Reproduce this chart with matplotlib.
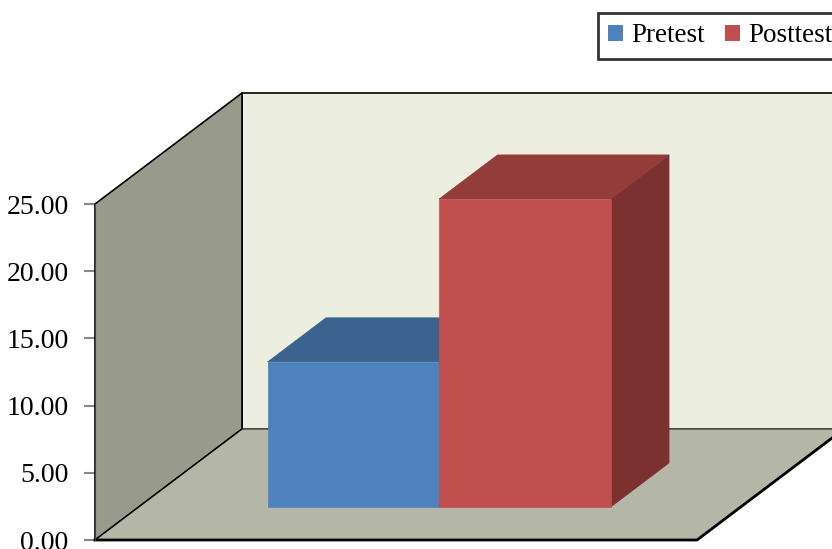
import matplotlib.pyplot as plt
from matplotlib.patches import Polygon, Patch

# Chart data
series = ["Pretest", "Posttest"]
values = [10.80, 22.92]
front_colors = ["#4F81BD", "#C0504D"]
top_colors = ["#3C6390", "#943C3A"]
side_colors = ["#385C87", "#7B3130"]
y_ticks = [0, 5, 10, 15, 20, 25]
y_labels = ["%.2f" % t for t in y_ticks]

# Layout of the fake 3D box (x in layout units, y in value units)
PX_PER_UNIT = 13.44
AXIS_X = 95
DEPTH_X = 147
DEPTH_Y = 111 / PX_PER_UNIT
FLOOR_RIGHT = 697
BAR_LEFT = 224
BAR_W = 171.5
BAR_D0, BAR_D1 = 0.297, 0.694

plt.rcParams['font.family'] = ['Liberation Serif', 'DejaVu Serif']

fig = plt.figure(figsize=(8.32, 5.49), dpi=100)
ax = fig.add_axes([0, 0, 1, 1])
ax.set_xlim(0, 832)
ax.set_ylim(-9 / PX_PER_UNIT, 540 / PX_PER_UNIT)

ymax = y_ticks[-1]
# back wall
ax.add_patch(Polygon([(AXIS_X + DEPTH_X, DEPTH_Y), (AXIS_X + DEPTH_X, ymax + DEPTH_Y),
                      (1000, ymax + DEPTH_Y), (1000, DEPTH_Y)],
                     closed=True, fc="#ECEFE0", ec="black", lw=1.2, zorder=1))
# left wall
ax.add_patch(Polygon([(AXIS_X, 0), (AXIS_X, ymax), (AXIS_X + DEPTH_X, ymax + DEPTH_Y),
                      (AXIS_X + DEPTH_X, DEPTH_Y)],
                     closed=True, fc="#989A8B", ec="black", lw=1.2, zorder=2))
# floor
ax.add_patch(Polygon([(AXIS_X, 0), (AXIS_X + DEPTH_X, DEPTH_Y),
                      (FLOOR_RIGHT + DEPTH_X, DEPTH_Y), (FLOOR_RIGHT, 0)],
                     closed=True, fc="#B4B7A8", ec="none", zorder=2))
ax.plot([AXIS_X + DEPTH_X, 1000], [DEPTH_Y, DEPTH_Y], color="#555555", lw=1.2, zorder=2)
ax.plot([AXIS_X + DEPTH_X, AXIS_X], [DEPTH_Y, 0], color="black", lw=1, zorder=2)
ax.plot([AXIS_X, FLOOR_RIGHT, FLOOR_RIGHT + DEPTH_X], [0, 0, DEPTH_Y],
        color="black", lw=2, zorder=2)

# bars
for i, v in enumerate(values):
    x0 = BAR_LEFT + i * BAR_W + BAR_D0 * DEPTH_X
    x1 = x0 + BAR_W
    b0 = BAR_D0 * DEPTH_Y
    dx = (BAR_D1 - BAR_D0) * DEPTH_X
    dy = (BAR_D1 - BAR_D0) * DEPTH_Y
    ax.add_patch(Polygon([(x1, b0), (x1 + dx, b0 + dy), (x1 + dx, b0 + v + dy), (x1, b0 + v)],
                         closed=True, fc=side_colors[i], ec=side_colors[i], lw=0.5, zorder=3))
    ax.add_patch(Polygon([(x0, b0 + v), (x0 + dx, b0 + v + dy), (x1 + dx, b0 + v + dy), (x1, b0 + v)],
                         closed=True, fc=top_colors[i], ec=top_colors[i], lw=0.5, zorder=3))
    ax.bar(x0, v, width=BAR_W, bottom=b0, align="edge", color=front_colors[i],
           edgecolor=front_colors[i], lw=0.5, zorder=4)

# value axis
for s in ["top", "right", "bottom"]:
    ax.spines[s].set_visible(False)
ax.spines["left"].set_position(("data", AXIS_X))
ax.spines["left"].set_bounds(0, ymax)
ax.spines["left"].set_color("#444444")
ax.spines["left"].set_zorder(5)
ax.set_yticks(y_ticks)
ax.set_yticklabels(y_labels)
ax.tick_params(axis="y", direction="out", length=8, width=1.5, color="#888888",
               labelsize=20, pad=11)
ax.set_xticks([])

handles = [Patch(facecolor=c, edgecolor="none") for c in front_colors]
leg = fig.legend(handles, series, loc="upper left", bbox_to_anchor=(598 / 832, 1 - 13 / 549),
                 ncol=2, fontsize=19.5, frameon=True, fancybox=False, handlelength=0.55,
                 handleheight=0.55, handletextpad=0.3, columnspacing=0.75,
                 borderpad=0.38, borderaxespad=0)
leg.get_frame().set_edgecolor("black")
leg.get_frame().set_linewidth(2)

fig.savefig("out.png", dpi=100)
